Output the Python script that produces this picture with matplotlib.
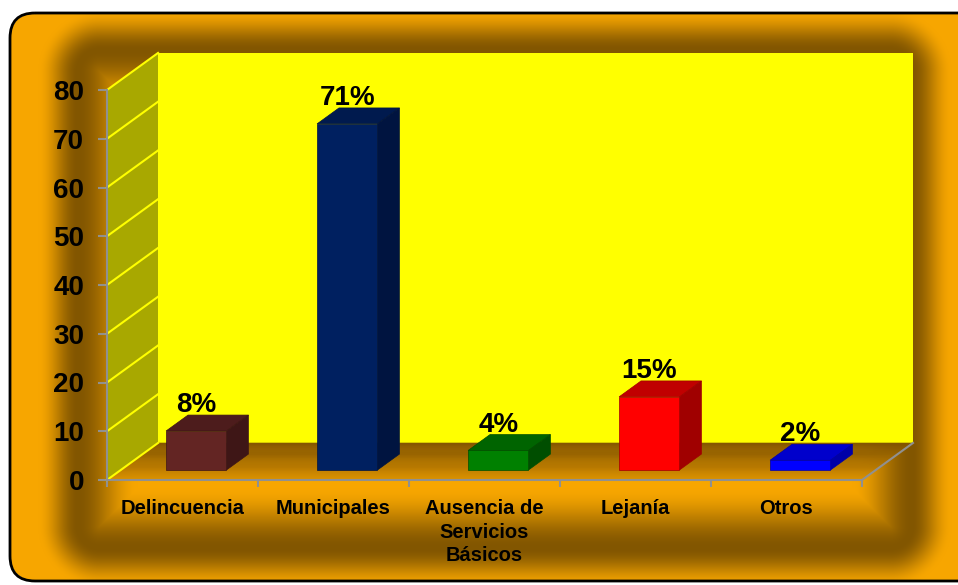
import numpy as np
import matplotlib
matplotlib.use("Agg")
import matplotlib.pyplot as plt
from matplotlib.patches import Polygon, FancyBboxPatch

plt.rcParams['font.family'] = ['Liberation Sans', 'DejaVu Sans']
plt.rcParams['font.weight'] = 'bold'

# datos
categorias = ['Delincuencia', 'Municipales', 'Ausencia de\nServicios\nBásicos', 'Lejanía', 'Otros']
valores = [8, 71, 4, 15, 2]
etiquetas = ['8%', '71%', '4%', '15%', '2%']
c_frente = ['#632523', '#002060', '#008000', '#FF0000', '#0000FF']
c_arriba = ['#4D1C1C', '#001A4E', '#006400', '#C00000', '#0000CC']
c_lado = ['#3E1616', '#001440', '#004E00', '#A00000', '#0000A8']
yticks = [0, 10, 20, 30, 40, 50, 60, 70, 80]

W, H = 958, 585
fig = plt.figure(figsize=(W / 100, H / 100), dpi=100)
fig.patch.set_facecolor('white')

# fondo naranja con sombra interior
def caja_redonda(px, py, x0, y0, x1, y1, r):
    cx, cy = (x0 + x1) / 2, (y0 + y1) / 2
    bx, by = (x1 - x0) / 2 - r, (y1 - y0) / 2 - r
    qx = np.abs(px - cx) - bx
    qy = np.abs(py - cy) - by
    fuera = np.hypot(np.maximum(qx, 0), np.maximum(qy, 0))
    dentro = np.minimum(np.maximum(qx, qy), 0)
    return fuera + dentro - r

yy, xx = np.mgrid[0:H, 0:W] + 0.5
d_ext = caja_redonda(xx, yy, 10, 13, 1010, 581, 25)
d_som = caja_redonda(xx, yy, 78, 50, 912, 548, 22)
t = np.where(d_som > 0, np.clip(d_som / 40, 0, 1), np.clip(-d_som / 60, 0, 1))
t = t * t * (3 - 2 * t)
claro = np.array([247, 166, 0]) / 255
oscuro = np.array([130, 86, 0]) / 255
rgb = oscuro + (claro - oscuro) * t[..., None]
alfa = (d_ext < 0).astype(float)
img = np.dstack([rgb, alfa])

fondo = fig.add_axes([0, 0, 1, 1], zorder=-10)
fondo.imshow(img, extent=(0, W, H, 0), interpolation='bilinear')
fondo.add_patch(FancyBboxPatch((10, 13), 1000, 568, boxstyle='round,pad=0,rounding_size=25',
                               fc='none', ec='black', lw=2))
fondo.set_xlim(0, W)
fondo.set_ylim(H, 0)
fondo.axis('off')

# ejes del grafico
ax = fig.add_axes([107 / W, 105 / H, 755 / W, 390 / H], zorder=1)
ax.patch.set_alpha(0)
n = len(valores)
pos = np.arange(n)
ax.set_xlim(-0.5, n - 0.5)
ax.set_ylim(0, 80)

DX, DY = 0.338, 7.6   # profundidad de las paredes en unidades de datos
xl, xr = -0.5, n - 0.5

# pared lateral y de fondo
ax.add_patch(Polygon([(xl, 0), (xl + DX, DY), (xl + DX, 80 + DY), (xl, 80)],
                     closed=True, fc='#A8A800', ec='none', clip_on=False, zorder=1))
ax.add_patch(Polygon([(xl + DX, DY), (xr + DX, DY), (xr + DX, 80 + DY), (xl + DX, 80 + DY)],
                     closed=True, fc='#FFFF00', ec='none', clip_on=False, zorder=1))

# piso con degradado (franjas)
c_atras = np.array([128, 84, 0]) / 255
c_delante = np.array([226, 150, 0]) / 255
nf = 40
for k in range(nf):
    a, b = k / nf, (k + 1) / nf
    c = c_delante + (c_atras - c_delante) * ((a + b) / 2) ** 0.8
    ax.add_patch(Polygon([(xl + a * DX, a * DY), (xr + a * DX, a * DY),
                          (xr + b * DX, b * DY), (xl + b * DX, b * DY)],
                         closed=True, fc=c, ec=c, lw=0.3, clip_on=False, zorder=1.5))

for v in yticks:
    ax.plot([xl, xl + DX], [v, v + DY], color='#FFFF00', lw=1.5, clip_on=False, zorder=2)
ax.plot([xr, xr + DX], [0, DY], color='#909090', lw=1.5, clip_on=False, zorder=2)

# barras 3D
ancho = 0.4
f0, fp = 0.27, 0.43
for i, v in enumerate(valores):
    x0 = pos[i] + f0 * DX - ancho / 2
    x1 = x0 + ancho
    y0 = f0 * DY
    y1 = v + y0
    ddx, ddy = fp * DX, fp * DY
    ax.bar(pos[i] + f0 * DX, v, width=ancho, bottom=y0, color=c_frente[i],
           edgecolor=c_lado[i], lw=0.5, zorder=4, clip_on=False)
    ax.add_patch(Polygon([(x0, y1), (x1, y1), (x1 + ddx, y1 + ddy), (x0 + ddx, y1 + ddy)],
                         closed=True, fc=c_arriba[i], ec=c_lado[i], lw=0.5, zorder=3, clip_on=False))
    ax.add_patch(Polygon([(x1, y0), (x1 + ddx, y0 + ddy), (x1 + ddx, y1 + ddy), (x1, y1)],
                         closed=True, fc=c_lado[i], ec=c_lado[i], lw=0.5, zorder=3, clip_on=False))
    ax.text(pos[i] + f0 * DX, y1 + ddy + 0.6, etiquetas[i], ha='center', va='baseline',
            fontsize=20, fontweight='bold', color='black', zorder=5)

# ejes
for s in ['top', 'right']:
    ax.spines[s].set_visible(False)
for s in ['left', 'bottom']:
    ax.spines[s].set_color('#909090')
    ax.spines[s].set_linewidth(1.5)
    ax.spines[s].set_zorder(6)
ax.set_yticks(yticks)
ax.set_yticklabels([str(v) for v in yticks], fontsize=20, fontweight='bold')
ax.tick_params(axis='y', colors='#909090', length=6.5, width=1.5, pad=10, labelcolor='black')
ax.set_xticks(pos)
ax.set_xticklabels(categorias, fontsize=14.5, fontweight='bold', linespacing=1.3, va='top')
ax.set_xticks(np.arange(n + 1) - 0.5, minor=True)
ax.tick_params(axis='x', which='major', length=0, pad=14, labelcolor='black')
ax.tick_params(axis='x', which='minor', colors='#909090', length=5, width=1.5)

fig.savefig('out.png', dpi=100)
